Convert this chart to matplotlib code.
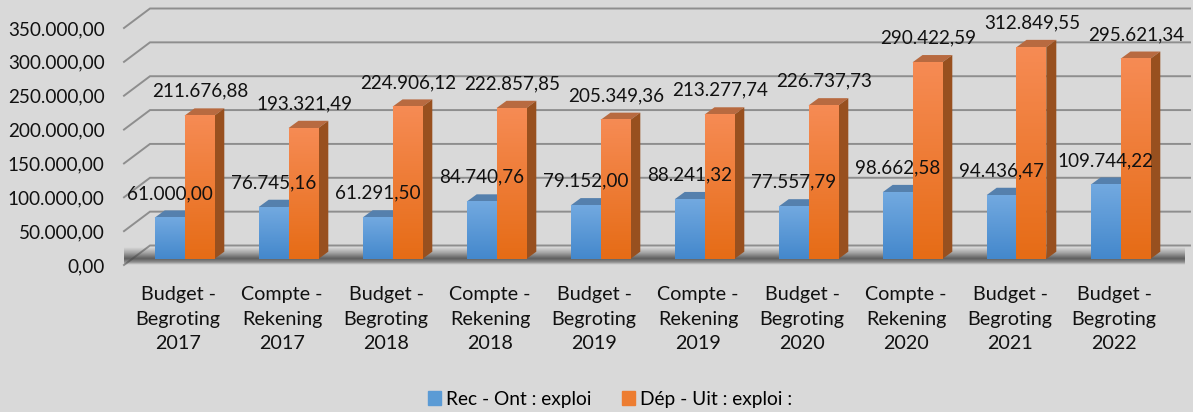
import matplotlib
matplotlib.use('Agg')
import matplotlib.pyplot as plt
from matplotlib.patches import Polygon, Patch
from matplotlib.colors import LinearSegmentedColormap
import numpy as np

categories = ['Budget -\nBegroting\n2017', 'Compte -\nRekening\n2017', 'Budget -\nBegroting\n2018',
              'Compte -\nRekening\n2018', 'Budget -\nBegroting\n2019', 'Compte -\nRekening\n2019',
              'Budget -\nBegroting\n2020', 'Compte -\nRekening\n2020', 'Budget -\nBegroting\n2021',
              'Budget -\nBegroting\n2022']
rec_values = [61000.00, 76745.16, 61291.50, 84740.76, 79152.00, 88241.32, 77557.79, 98662.58, 94436.47, 109744.22]
dep_values = [211676.88, 193321.49, 224906.12, 222857.85, 205349.36, 213277.74, 226737.73, 290422.59, 312849.55, 295621.34]
y_ticks = [0, 50000, 100000, 150000, 200000, 250000, 300000, 350000]

W, H = 1193, 412
plt.rcParams['font.family'] = ['Lato', 'DejaVu Sans']
BG = '#D9D9D9'
fig = plt.figure(figsize=(W / 100, H / 100), dpi=100, facecolor=BG)
# front plane of the 3d box, in pixels
ax = fig.add_axes([124 / W, 1 - 265 / H, 1040 / W, 237 / H])
ax.set_facecolor('none')
for s in ax.spines.values():
    s.set_visible(False)

PX = 10 / 1040     # one pixel in x data units
PY = 350000 / 237  # one pixel in y data units
BACK_X, BACK_Y = 26 * PX, 19.5 * PY
BAR_W = 29.8 * PX
BAR_DX, BAR_DY = 10 * PX, 7.3 * PY
BASE_Y = 6 * PY


def fmt(v):
    return f'{v:,.2f}'.replace(',', 'X').replace('.', ',').replace('X', '.')


def draw_bar(x0, v, c_top, c_bottom, top, side, z):
    x1 = x0 + BAR_W
    y0 = BASE_Y
    y1 = v + BASE_Y
    ax.add_patch(Polygon([(x0, y1), (x1, y1), (x1 + BAR_DX, y1 + BAR_DY), (x0 + BAR_DX, y1 + BAR_DY)],
                         color=top, lw=0, zorder=z, clip_on=False))
    ax.add_patch(Polygon([(x1, y0), (x1 + BAR_DX, y0 + BAR_DY), (x1 + BAR_DX, y1 + BAR_DY), (x1, y1)],
                         color=side, lw=0, zorder=z, clip_on=False))
    cmap = LinearSegmentedColormap.from_list('g', [c_top, c_bottom])
    ax.imshow(np.linspace(0, 1, 64)[:, None], cmap=cmap, extent=(x0, x1, y0, y1), origin='upper',
              aspect='auto', zorder=z + 0.1, clip_on=False, interpolation='bilinear')


# gridlines: diagonal on the side wall + back wall line
for t in y_ticks:
    ax.plot([0, BACK_X, 10 + BACK_X], [t, t + BACK_Y, t + BACK_Y], color='#8E8E8E', lw=1.4,
            clip_on=False, zorder=1, solid_joinstyle='miter')

# floor shadow
shadow = np.zeros((40, 2, 4))
shadow[..., :3] = 0.28
shadow[..., 3] = np.interp(np.linspace(0, 1, 40), [0, .3, .65, .85, 1], [0, .35, .85, .5, 0])[:, None]
floor_top = 18 * PY
im = ax.imshow(shadow, extent=(0, 10.2, 0, floor_top), aspect='auto', origin='upper', zorder=1.5,
               clip_on=False, interpolation='bilinear')
im.set_clip_path(Polygon([(9 * PX, 0), (10, 0), (10 + 17 * PX, floor_top), (30 * PX, floor_top)],
                         transform=ax.transData))

for i, (r, d) in enumerate(zip(rec_values, dep_values)):
    left = i + 30.7 * PX
    draw_bar(left, r, '#72A9E0', '#4488CC', '#5580AD', '#41719C', 3)
    draw_bar(left + BAR_W, d, '#F68B54', '#E66C16', '#B86A40', '#98501F', 4)
    ax.annotate(fmt(r), (left + BAR_W / 2, r + BASE_Y), xytext=(0, 17.5), textcoords='offset points',
                ha='center', va='center', fontsize=13.6, color='#111111', zorder=6, annotation_clip=False)
    ax.annotate(fmt(d), (left + BAR_W * 1.5 + 0.01, d + BASE_Y), xytext=(0, 17.5), textcoords='offset points',
                ha='center', va='center', fontsize=13.6, color='#111111', zorder=6, annotation_clip=False)

ax.set_xlim(0, 10)
ax.set_ylim(0, 350000)
ax.set_yticks(y_ticks)
ax.set_yticklabels([fmt(t) for t in y_ticks], fontsize=13.6, color='#111111')
ax.set_xticks(np.arange(10) + 0.52)
ax.set_xticklabels(categories, fontsize=14.2, color='#111111', linespacing=1.55)
ax.tick_params(axis='both', length=0)
ax.tick_params(axis='y', pad=14)
ax.tick_params(axis='x', pad=15)

fig.legend(handles=[Patch(color='#5B9BD5', label='Rec - Ont : exploi'), Patch(color='#ED7D31', label='Dép - Uit : exploi :')],
           loc='center', bbox_to_anchor=(610 / W, 1 - 399 / H), ncols=2, frameon=False, fontsize=13.8,
           handlelength=0.7, handleheight=0.7, handletextpad=0.25, columnspacing=1.6)

fig.savefig('out.png', dpi=100, facecolor=BG)
